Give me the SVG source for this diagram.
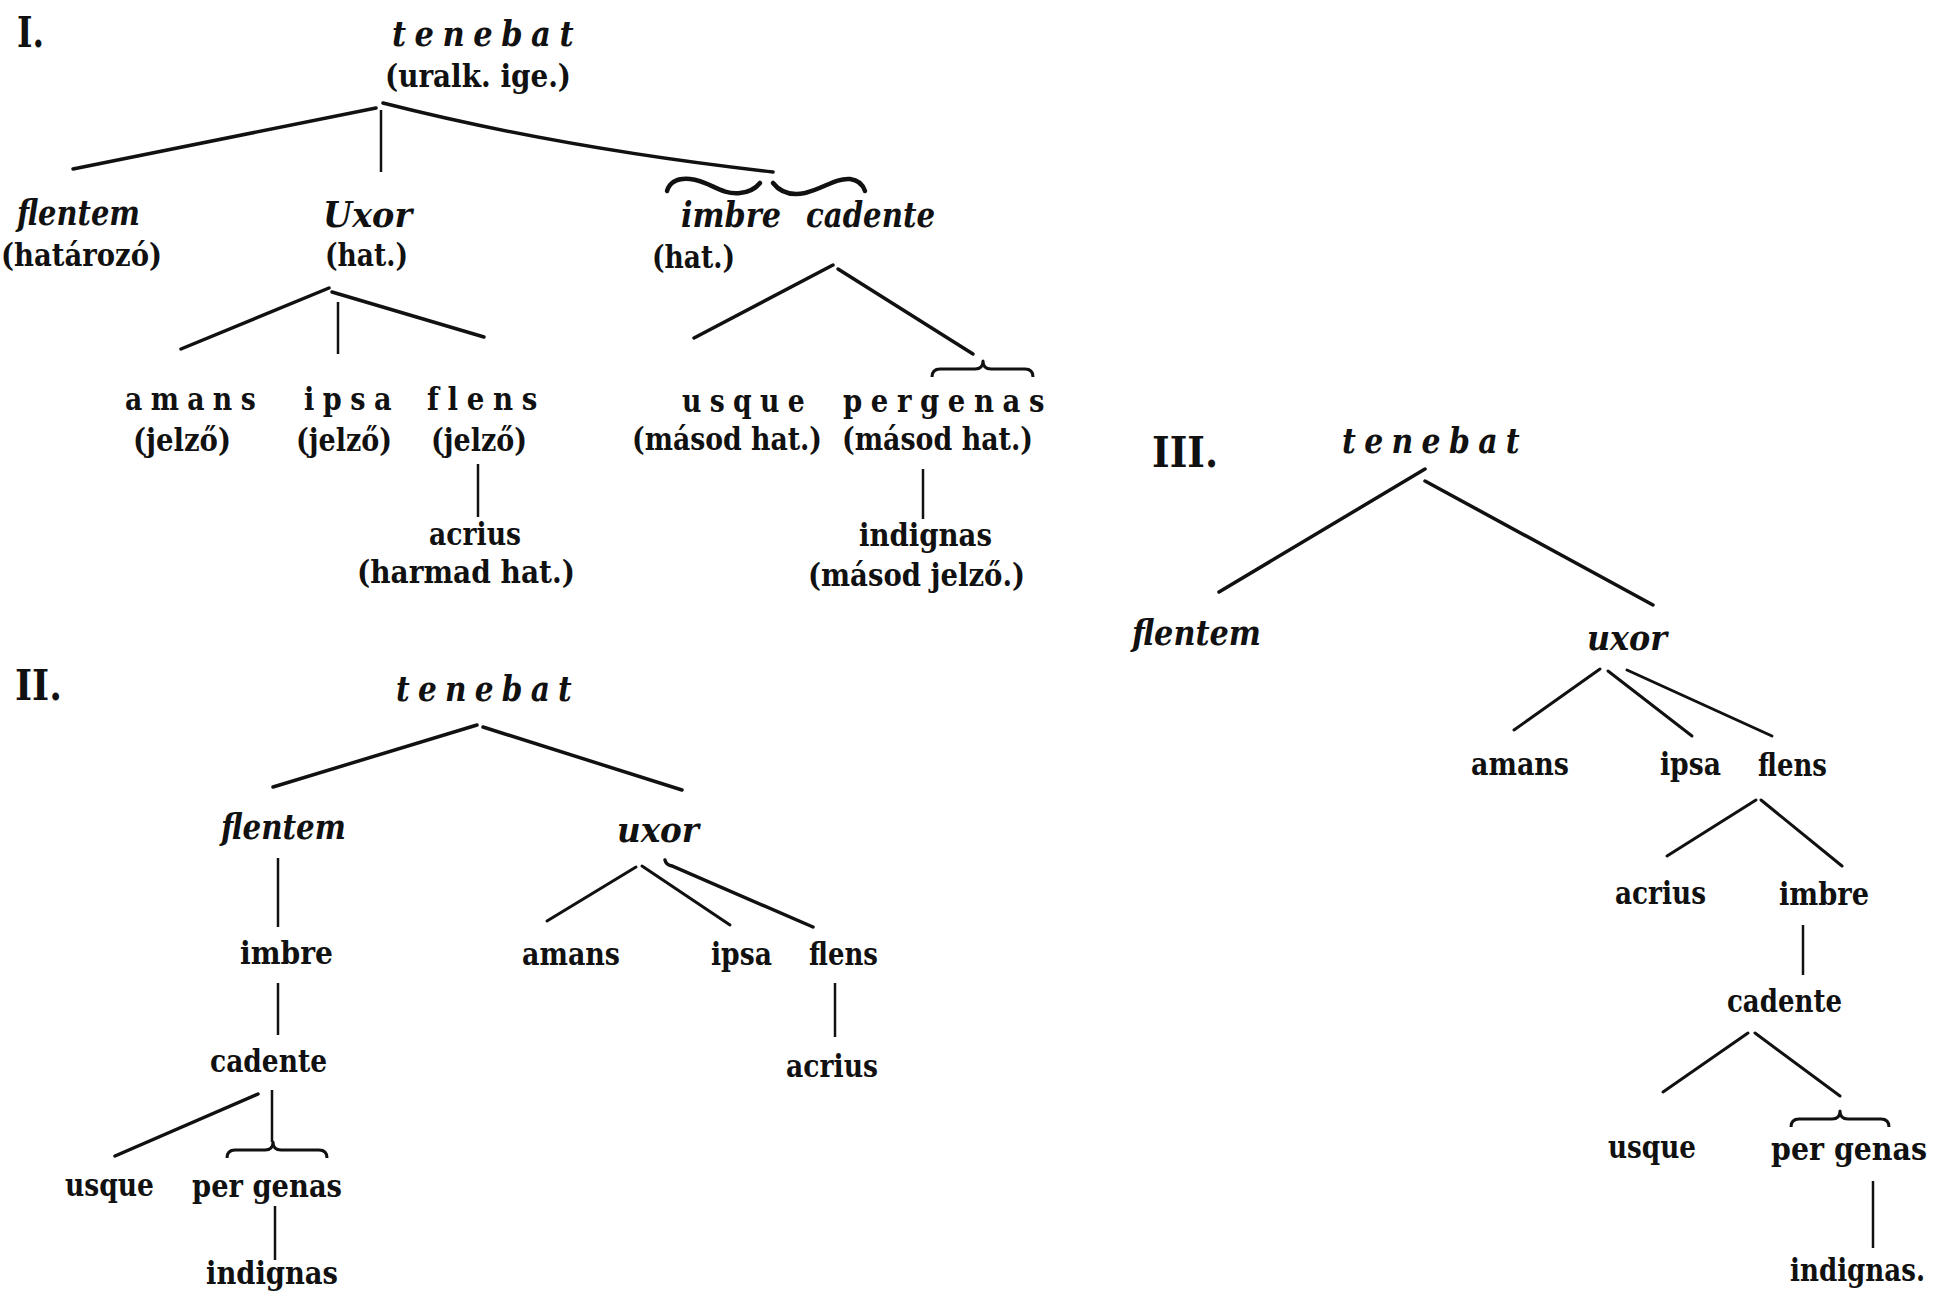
<svg xmlns="http://www.w3.org/2000/svg" width="1948" height="1303" viewBox="0 0 1948 1303">
<style>
text { font-family: "DejaVu Serif", "Liberation Serif", serif; font-weight: bold; fill: #111; }
.w { font-size: 32px; }
.it { font-size: 36px; font-style: italic; }
.sp { letter-spacing: 10px; }
.num { font-size: 42px; }
.ln { stroke: #111; stroke-width: 3.5; fill: none; stroke-linecap: round; }
.ln3 { stroke: #111; stroke-width: 3; fill: none; stroke-linecap: round; }
.v { stroke: #111; stroke-width: 2.5; fill: none; }
.br { stroke: #111; stroke-width: 3; fill: none; stroke-linejoin: round; }
.sw { stroke: #111; stroke-width: 4.5; fill: none; stroke-linecap: round; }
</style>
<rect width="1948" height="1303" fill="#fff"/>

<g id="connectors">
  <!-- Tree I -->
  <line class="ln" x1="376" y1="108" x2="73" y2="169"/>
  <line class="v" x1="381" y1="110" x2="381" y2="172"/>
  <path class="ln" d="M383,103 Q560,148 773,172"/>
  <line class="ln" x1="329" y1="288" x2="181" y2="349"/>
  <line class="v" x1="338" y1="302" x2="338" y2="354"/>
  <line class="ln" x1="332" y1="292" x2="484" y2="337"/>
  <line class="v" x1="478" y1="464" x2="478" y2="517"/>
  <line class="ln" x1="833" y1="265" x2="694" y2="338"/>
  <line class="ln" x1="838" y1="269" x2="973" y2="354"/>
  <line class="v" x1="923" y1="469" x2="923" y2="519"/>
  <path class="sw" d="M667,191 C670,181 678,178 690,179 C710,181 720,195 740,193 C750,192 756,188 760,183"/>
  <path class="sw" d="M773,183 C780,192 790,196 805,193 C825,188 835,178 850,179 C858,180 863,185 865,191"/>
  <path class="br" d="M932,377 Q932,369 940,369 L975,369 Q983,369 983,361 Q983,369 991,369 L1025,369 Q1033,369 1033,377"/>
  <!-- Tree II -->
  <line class="ln" x1="477" y1="725" x2="273" y2="787"/>
  <line class="ln" x1="483" y1="727" x2="682" y2="790"/>
  <line class="v" x1="278" y1="858" x2="278" y2="927"/>
  <line class="v" x1="278" y1="983" x2="278" y2="1035"/>
  <line class="ln" x1="258" y1="1094" x2="115" y2="1156"/>
  <line class="v" x1="272" y1="1090" x2="272" y2="1142"/>
  <path class="br" d="M227,1158 Q227,1150 235,1150 L265,1150 Q273,1150 273,1142 Q273,1150 281,1150 L319,1150 Q327,1150 327,1158"/>
  <line class="v" x1="275" y1="1206" x2="275" y2="1260"/>
  <line class="ln3" x1="636" y1="867" x2="547" y2="921"/>
  <line class="ln3" x1="642" y1="866" x2="730" y2="925"/>
  <path class="ln" d="M665,860 Q666,865 672,866 L813,927"/>
  <line class="v" x1="835" y1="983" x2="835" y2="1037"/>
  <!-- Tree III -->
  <line class="ln" x1="1425" y1="469" x2="1219" y2="592"/>
  <line class="ln" x1="1425" y1="481" x2="1653" y2="605"/>
  <line class="ln3" x1="1600" y1="669" x2="1514" y2="730"/>
  <line class="ln3" x1="1608" y1="671" x2="1692" y2="736"/>
  <line class="ln3" x1="1627" y1="670" x2="1772" y2="736"/>
  <line class="ln3" x1="1756" y1="800" x2="1667" y2="856"/>
  <line class="ln3" x1="1761" y1="800" x2="1842" y2="866"/>
  <line class="v" x1="1803" y1="925" x2="1803" y2="975"/>
  <line class="ln3" x1="1748" y1="1033" x2="1663" y2="1092"/>
  <line class="ln3" x1="1755" y1="1033" x2="1840" y2="1096"/>
  <path class="br" d="M1791,1127 Q1791,1119 1799,1119 L1832,1119 Q1840,1119 1840,1111 Q1840,1119 1848,1119 L1881,1119 Q1889,1119 1889,1127"/>
  <line class="v" x1="1873" y1="1181" x2="1873" y2="1248"/>
</g>

<!-- Tree I -->
<g id="label-I"><text class="num" x="17" y="47" textLength="27" lengthAdjust="spacingAndGlyphs">I.</text></g>
<g id="I-tenebat">
  <text class="it sp" x="392" y="46" textLength="190" lengthAdjust="spacingAndGlyphs">tenebat</text>
  <text class="w" x="385" y="87" textLength="186" lengthAdjust="spacingAndGlyphs">(uralk. ige.)</text>
</g>
<g id="I-flentem">
  <text class="it" x="17" y="225" textLength="123" lengthAdjust="spacingAndGlyphs">flentem</text>
  <text class="w" x="1" y="266" textLength="161" lengthAdjust="spacingAndGlyphs">(határozó)</text>
</g>
<g id="I-uxor">
  <text class="it" x="323" y="227" textLength="89" lengthAdjust="spacingAndGlyphs">Uxor</text>
  <text class="w" x="325" y="266" textLength="83" lengthAdjust="spacingAndGlyphs">(hat.)</text>
</g>
<g id="I-imbre-cadente">
  <text class="it" x="681" y="227" textLength="100" lengthAdjust="spacingAndGlyphs">imbre</text>
  <text class="it" x="806" y="227" textLength="129" lengthAdjust="spacingAndGlyphs">cadente</text>
  <text class="w" x="652" y="268" textLength="83" lengthAdjust="spacingAndGlyphs">(hat.)</text>
</g>
<g id="I-amans">
  <text class="w sp" x="125" y="410" textLength="139" lengthAdjust="spacingAndGlyphs">amans</text>
  <text class="w" x="133" y="451" textLength="98" lengthAdjust="spacingAndGlyphs">(jelző)</text>
</g>
<g id="I-ipsa">
  <text class="w sp" x="304" y="410" textLength="96" lengthAdjust="spacingAndGlyphs">ipsa</text>
  <text class="w" x="296" y="451" textLength="96" lengthAdjust="spacingAndGlyphs">(jelző)</text>
</g>
<g id="I-flens">
  <text class="w sp" x="427" y="410" textLength="119" lengthAdjust="spacingAndGlyphs">flens</text>
  <text class="w" x="431" y="451" textLength="96" lengthAdjust="spacingAndGlyphs">(jelző)</text>
</g>
<g id="I-acrius">
  <text class="w" x="429" y="545" textLength="92" lengthAdjust="spacingAndGlyphs">acrius</text>
  <text class="w" x="357" y="583" textLength="218" lengthAdjust="spacingAndGlyphs">(harmad hat.)</text>
</g>
<g id="I-usque">
  <text class="w sp" x="682" y="412" textLength="131" lengthAdjust="spacingAndGlyphs">usque</text>
  <text class="w" x="632" y="450" textLength="190" lengthAdjust="spacingAndGlyphs">(másod hat.)</text>
</g>
<g id="I-pergenas">
  <text class="w sp" x="843" y="412" textLength="210" lengthAdjust="spacingAndGlyphs">pergenas</text>
  <text class="w" x="842" y="450" textLength="191" lengthAdjust="spacingAndGlyphs">(másod hat.)</text>
</g>
<g id="I-indignas">
  <text class="w" x="859" y="546" textLength="133" lengthAdjust="spacingAndGlyphs">indignas</text>
  <text class="w" x="808" y="586" textLength="217" lengthAdjust="spacingAndGlyphs">(másod jelző.)</text>
</g>

<!-- Tree II -->
<g id="label-II"><text class="num" x="15" y="700" textLength="47" lengthAdjust="spacingAndGlyphs">II.</text></g>
<g id="II-tenebat"><text class="it sp" x="396" y="701" textLength="184" lengthAdjust="spacingAndGlyphs">tenebat</text></g>
<g id="II-flentem"><text class="it" x="221" y="839" textLength="125" lengthAdjust="spacingAndGlyphs">flentem</text></g>
<g id="II-uxor"><text class="it" x="617" y="842" textLength="82" lengthAdjust="spacingAndGlyphs">uxor</text></g>
<g id="II-imbre"><text class="w" x="240" y="964" textLength="93" lengthAdjust="spacingAndGlyphs">imbre</text></g>
<g id="II-cadente"><text class="w" x="210" y="1072" textLength="117" lengthAdjust="spacingAndGlyphs">cadente</text></g>
<g id="II-usque"><text class="w" x="65" y="1196" textLength="89" lengthAdjust="spacingAndGlyphs">usque</text></g>
<g id="II-pergenas"><text class="w" x="192" y="1197" textLength="150" lengthAdjust="spacingAndGlyphs">per genas</text></g>
<g id="II-indignas"><text class="w" x="206" y="1284" textLength="132" lengthAdjust="spacingAndGlyphs">indignas</text></g>
<g id="II-amans"><text class="w" x="522" y="965" textLength="98" lengthAdjust="spacingAndGlyphs">amans</text></g>
<g id="II-ipsa"><text class="w" x="711" y="965" textLength="61" lengthAdjust="spacingAndGlyphs">ipsa</text></g>
<g id="II-flens"><text class="w" x="809" y="965" textLength="69" lengthAdjust="spacingAndGlyphs">flens</text></g>
<g id="II-acrius"><text class="w" x="786" y="1077" textLength="92" lengthAdjust="spacingAndGlyphs">acrius</text></g>

<!-- Tree III -->
<g id="label-III"><text class="num" x="1152" y="467" textLength="66" lengthAdjust="spacingAndGlyphs">III.</text></g>
<g id="III-tenebat"><text class="it sp" x="1342" y="453" textLength="186" lengthAdjust="spacingAndGlyphs">tenebat</text></g>
<g id="III-flentem"><text class="it" x="1132" y="645" textLength="129" lengthAdjust="spacingAndGlyphs">flentem</text></g>
<g id="III-uxor"><text class="it" x="1587" y="650" textLength="80" lengthAdjust="spacingAndGlyphs">uxor</text></g>
<g id="III-amans"><text class="w" x="1471" y="775" textLength="98" lengthAdjust="spacingAndGlyphs">amans</text></g>
<g id="III-ipsa"><text class="w" x="1660" y="775" textLength="61" lengthAdjust="spacingAndGlyphs">ipsa</text></g>
<g id="III-flens"><text class="w" x="1758" y="776" textLength="69" lengthAdjust="spacingAndGlyphs">flens</text></g>
<g id="III-acrius"><text class="w" x="1615" y="904" textLength="91" lengthAdjust="spacingAndGlyphs">acrius</text></g>
<g id="III-imbre"><text class="w" x="1779" y="905" textLength="90" lengthAdjust="spacingAndGlyphs">imbre</text></g>
<g id="III-cadente"><text class="w" x="1727" y="1012" textLength="115" lengthAdjust="spacingAndGlyphs">cadente</text></g>
<g id="III-usque"><text class="w" x="1608" y="1158" textLength="88" lengthAdjust="spacingAndGlyphs">usque</text></g>
<g id="III-pergenas"><text class="w" x="1771" y="1160" textLength="156" lengthAdjust="spacingAndGlyphs">per genas</text></g>
<g id="III-indignas"><text class="w" x="1790" y="1281" textLength="135" lengthAdjust="spacingAndGlyphs">indignas.</text></g>
</svg>
